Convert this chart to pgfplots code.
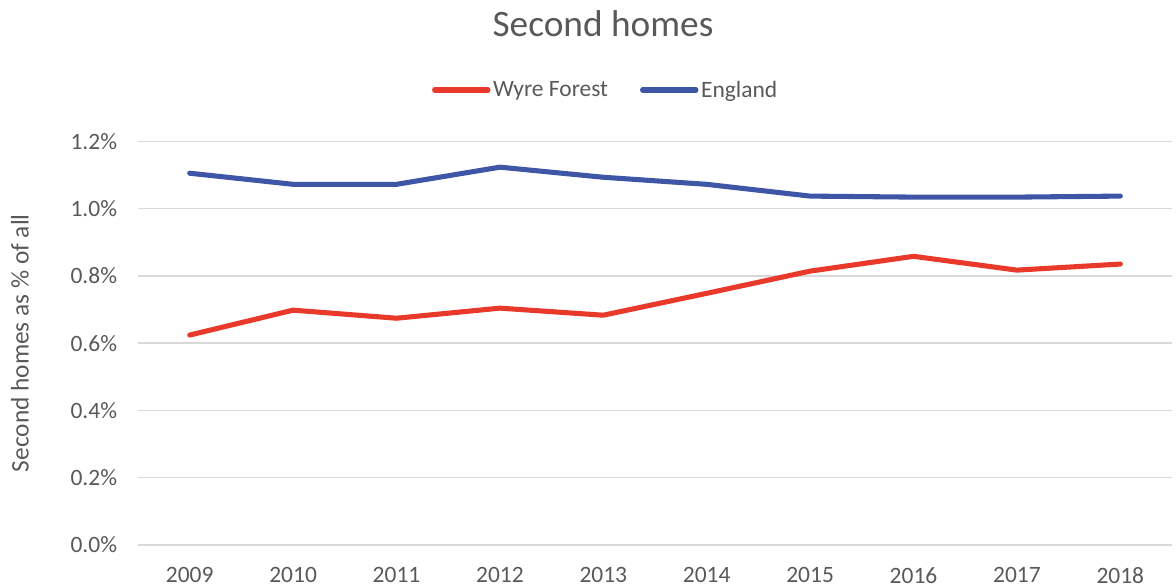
\documentclass[border=0pt]{standalone}
\usepackage{fontspec}
\setmainfont{Carlito}
\usepackage{pgfplots}
\pgfplotsset{compat=1.18}
\definecolor{wyre}{HTML}{E8392A}
\definecolor{eng}{HTML}{3F55A5}
\definecolor{txt}{HTML}{595959}
\definecolor{gridc}{HTML}{D9D9D9}
\begin{document}
\begin{tikzpicture}
\begin{axis}[
  at={(0,0)}, anchor=south west,
  scale only axis, width=775.5bp, height=302.8bp,
  xmin=-0.5, xmax=9.5, ymin=0, ymax=1.2,
  xtick={0,...,9},
  xticklabels={2009,2010,2011,2012,2013,2014,2015,2016,2017,2018},
  ytick={0,0.2,...,1.2},
  yticklabel={\pgfmathprintnumber[fixed,fixed zerofill,precision=1]{\tick}\%},
  /pgf/number format/assume math mode=true,
  axis line style={draw=none},
  tick style={draw=none},
  ymajorgrids, grid style={gridc, line width=1bp},
  every tick label/.append style={font=\fontsize{17.6bp}{20bp}\selectfont, text=txt},
  y tick label style={anchor=east, inner sep=0pt, xshift=-15.5bp},
  x tick label style={anchor=north, inner sep=0pt, yshift=-16.5bp},
  ylabel={Second homes as \% of all},
  ylabel style={font=\fontsize{19bp}{22bp}\selectfont, text=txt, at={(axis description cs:-0.1141,0.5)}, anchor=center},
  title={Second homes},
  title style={font=\fontsize{28bp}{32bp}\selectfont, text=txt, at={(axis description cs:0.4497,1.272)}, anchor=center},
  legend style={at={(axis description cs:0.4526,1.127)}, anchor=center, draw=none, fill=none,
    font=\fontsize{17.6bp}{20bp}\selectfont, text=txt,
    /tikz/every even column/.append style={column sep=22bp}},
  legend columns=-1,
  legend image code/.code={\draw[#1, line cap=round] (0bp,0bp) -- (40bp,0bp);},
  legend cell align=left,
]
\addplot[wyre, line width=3.8bp, line cap=round, line join=round] coordinates {
 (0,0.624) (1,0.698) (2,0.674) (3,0.704) (4,0.683) (5,0.748) (6,0.814) (7,0.858) (8,0.817) (9,0.835)};
\addlegendentry{Wyre Forest}
\addplot[eng, line width=3.8bp, line cap=round, line join=round] coordinates {
 (0,1.105) (1,1.072) (2,1.072) (3,1.123) (4,1.093) (5,1.072) (6,1.037) (7,1.034) (8,1.034) (9,1.037)};
\addlegendentry{England}
\end{axis}
\pgfresetboundingbox
\path[use as bounding box] (-103.5bp,-32.25bp) rectangle (778.5bp,408.75bp);
\end{tikzpicture}
\end{document}
